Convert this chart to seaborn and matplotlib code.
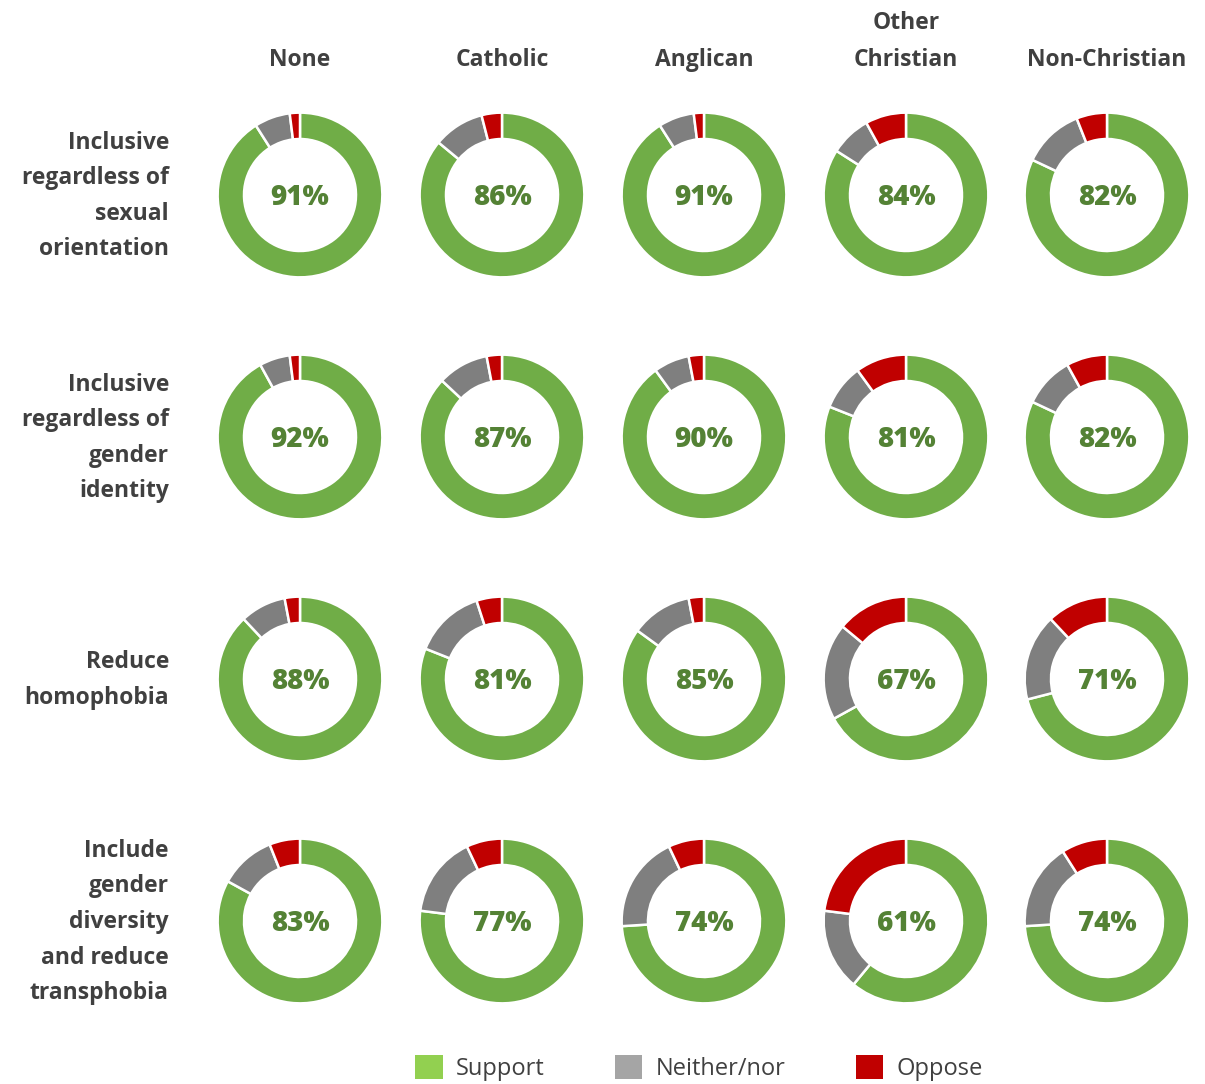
import matplotlib
matplotlib.use("Agg")
import matplotlib.pyplot as plt
from matplotlib.patches import Patch
import seaborn as sns

# Survey shares (%) per religious affiliation
religions = ["None", "Catholic", "Anglican", "Other\nChristian", "Non-Christian"]
statements = [
    "Inclusive\nregardless of\nsexual\norientation",
    "Inclusive\nregardless of\ngender\nidentity",
    "Reduce\nhomophobia",
    "Include\ngender\ndiversity\nand reduce\ntransphobia",
]
support = [
    [91, 86, 91, 84, 82],
    [92, 87, 90, 81, 82],
    [88, 81, 85, 67, 71],
    [83, 77, 74, 61, 74],
]
neither = [
    [7, 10, 7, 8, 12],
    [6, 10, 7, 9, 10],
    [9, 14, 12, 19, 17],
    [11, 16, 19, 16, 17],
]
oppose = [
    [2, 4, 2, 8, 6],
    [2, 3, 3, 10, 8],
    [3, 5, 3, 14, 12],
    [6, 7, 7, 23, 9],
]
legend_labels = ["Support", "Neither/nor", "Oppose"]

sns.set_theme(style="white")
plt.rcParams["font.family"] = ["Open Sans", "DejaVu Sans"]

ring_colors = sns.color_palette(["#70AD47", "#7F7F7F", "#C00000"])
legend_colors = sns.color_palette(["#92D050", "#A5A5A5", "#C00000"])
text_color = "#404040"
pct_color = "#548235"

W, H = 1205, 1084
fig = plt.figure(figsize=(W / 100, H / 100), dpi=100)

col_x = [300, 502, 704, 906, 1107]
row_y = [195, 437, 679, 921]
R = 84

for i in range(len(statements)):
    for j in range(len(religions)):
        cx, cy = col_x[j], row_y[i]
        ax = fig.add_axes([(cx - R) / W, 1 - (cy + R) / H, 2 * R / W, 2 * R / H])
        vals = [support[i][j], neither[i][j], oppose[i][j]]
        ax.pie(vals, colors=ring_colors, startangle=90, counterclock=False,
               radius=1.0,
               wedgeprops=dict(width=0.32, edgecolor="white", linewidth=1.8))
        ax.text(0, -0.03, f"{support[i][j]}%", ha="center", va="center",
                fontsize=20, fontweight="heavy", color=pct_color)
        ax.set_xlim(-1.02, 1.02)
        ax.set_ylim(-1.02, 1.02)
        ax.set_aspect("equal")
        ax.axis("off")

# Column headers
for j, name in enumerate(religions):
    fig.text(col_x[j] / W, 1 - 60 / H, name.split("\n")[-1], ha="center", va="center",
             fontsize=16.5, fontweight="bold", color=text_color)
    if "\n" in name:
        fig.text(col_x[j] / W, 1 - 23 / H, name.split("\n")[0], ha="center", va="center",
                 fontsize=16.5, fontweight="bold", color=text_color)

# Row labels
for i, name in enumerate(statements):
    fig.text(169 / W, 1 - (row_y[i] + 1) / H, name, ha="right", va="center",
             fontsize=16.5, fontweight="bold", color=text_color, linespacing=1.64)

handles = [Patch(facecolor=c, edgecolor="none") for c in legend_colors]
fig.legend(handles, legend_labels, loc="center", bbox_to_anchor=(699 / W, 1 - 1068 / H),
           ncol=3, frameon=False, fontsize=17, handlelength=1.15, handleheight=1.15,
           handletextpad=0.55, columnspacing=3.0, labelcolor=text_color)

fig.savefig("out.png", dpi=100, facecolor="white")
